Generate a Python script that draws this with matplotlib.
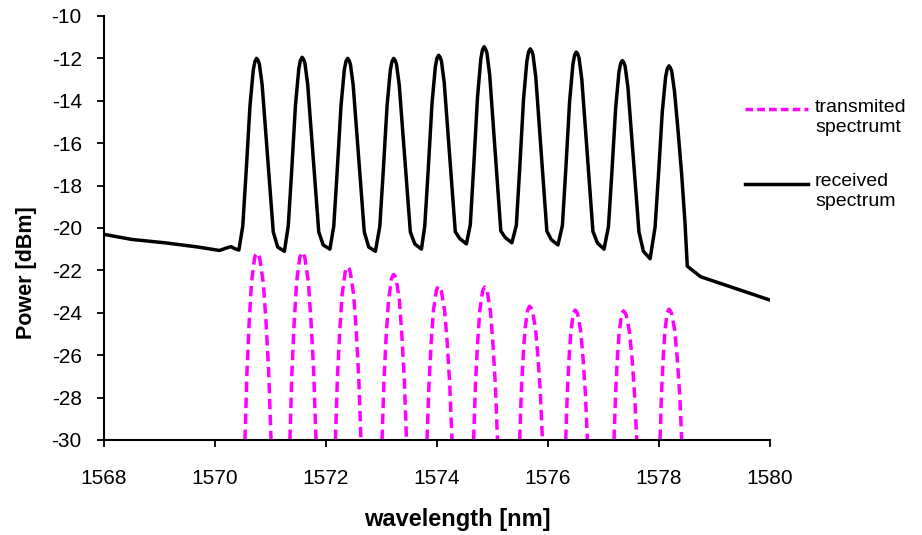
import numpy as np
import matplotlib
matplotlib.use("Agg")
import matplotlib.pyplot as plt
from matplotlib.lines import Line2D

plt.rcParams['font.family'] = ['Liberation Sans', 'DejaVu Sans']
plt.rcParams['axes.unicode_minus'] = False

# received spectrum (black)
rx = [1568.00, 1568.50, 1569.10, 1569.70, 1570.08, 1570.20, 1570.29, 1570.36, 1570.43,
      # ch 1
      1570.50, 1570.56, 1570.63, 1570.69, 1570.72, 1570.75, 1570.775, 1570.80, 1570.85, 1570.91, 1570.98, 1571.05, 1571.13, 1571.25,
      # ch 2
      1571.32, 1571.38, 1571.45, 1571.51, 1571.54, 1571.57, 1571.595, 1571.62, 1571.67, 1571.73, 1571.80, 1571.87, 1571.95, 1572.07,
      # ch 3
      1572.14, 1572.20, 1572.27, 1572.33, 1572.36, 1572.39, 1572.415, 1572.44, 1572.49, 1572.55, 1572.62, 1572.69, 1572.77, 1572.89,
      # ch 4
      1572.97, 1573.03, 1573.10, 1573.16, 1573.19, 1573.22, 1573.245, 1573.27, 1573.32, 1573.38, 1573.45, 1573.52, 1573.60, 1573.72,
      # ch 5
      1573.78, 1573.84, 1573.91, 1573.97, 1574.00, 1574.03, 1574.055, 1574.08, 1574.13, 1574.19, 1574.26, 1574.33, 1574.41, 1574.53,
      # ch 6
      1574.60, 1574.66, 1574.73, 1574.79, 1574.82, 1574.85, 1574.875, 1574.90, 1574.95, 1575.01, 1575.08, 1575.15, 1575.23, 1575.35,
      # ch 7
      1575.43, 1575.49, 1575.56, 1575.62, 1575.65, 1575.68, 1575.705, 1575.73, 1575.78, 1575.84, 1575.91, 1575.98, 1576.06, 1576.18,
      # ch 8
      1576.26, 1576.32, 1576.39, 1576.45, 1576.48, 1576.51, 1576.535, 1576.56, 1576.61, 1576.67, 1576.74, 1576.81, 1576.89, 1577.01,
      # ch 9
      1577.09, 1577.15, 1577.22, 1577.28, 1577.31, 1577.34, 1577.365, 1577.39, 1577.44, 1577.50, 1577.57, 1577.64, 1577.72, 1577.84,
      # ch 10 + tail
      1577.93, 1577.99, 1578.06, 1578.12, 1578.15, 1578.18, 1578.205, 1578.23, 1578.28, 1578.34, 1578.41, 1578.47, 1578.51,
      1578.75, 1580.00]
ry = [-20.30, -20.54, -20.70, -20.90, -21.06, -20.95, -20.88, -20.98, -21.04,
      -19.92, -17.40, -14.25, -12.54, -12.14, -12.00, -12.09, -12.27, -13.26, -15.33, -17.76, -20.19, -20.90, -21.10,
      -19.91, -17.38, -14.21, -12.49, -12.09, -11.95, -12.04, -12.22, -13.22, -15.30, -17.74, -20.19, -20.80, -21.00,
      -19.92, -17.40, -14.25, -12.54, -12.14, -12.00, -12.09, -12.27, -13.26, -15.33, -17.76, -20.19, -20.90, -21.10,
      -19.92, -17.40, -14.25, -12.54, -12.14, -12.00, -12.09, -12.27, -13.26, -15.33, -17.76, -20.19, -20.75, -21.00,
      -19.90, -17.34, -14.14, -12.40, -11.99, -11.85, -11.94, -12.12, -13.13, -15.24, -17.71, -20.18, -20.50, -20.75,
      -19.85, -17.18, -13.84, -12.02, -11.59, -11.45, -11.55, -11.74, -12.79, -14.98, -17.56, -20.14, -20.45, -20.70,
      -19.87, -17.22, -13.91, -12.12, -11.69, -11.55, -11.64, -11.83, -12.87, -15.05, -17.60, -20.15, -20.55, -20.80,
      -19.88, -17.28, -14.02, -12.26, -11.84, -11.70, -11.79, -11.98, -13.00, -15.14, -17.65, -20.16, -20.70, -21.00,
      -19.93, -17.44, -14.32, -12.63, -12.23, -12.10, -12.19, -12.37, -13.35, -15.39, -17.80, -20.20, -21.10, -21.45,
      -19.96, -17.54, -14.51, -12.87, -12.48, -12.35, -12.44, -12.61, -13.56, -15.30, -17.50, -19.80, -21.80,
      -22.30, -23.40]

# transmitted spectrum (magenta), one list per channel
tx = [[1570.540, 1570.576, 1570.616, 1570.658, 1570.712, 1570.734, 1570.755, 1570.781, 1570.806, 1570.870, 1570.920, 1570.968, 1571.010],
      [1571.350, 1571.386, 1571.428, 1571.471, 1571.526, 1571.548, 1571.570, 1571.595, 1571.620, 1571.683, 1571.731, 1571.779, 1571.820],
      [1572.170, 1572.206, 1572.248, 1572.291, 1572.346, 1572.368, 1572.390, 1572.414, 1572.438, 1572.498, 1572.545, 1572.590, 1572.630],
      [1573.010, 1573.045, 1573.085, 1573.126, 1573.178, 1573.199, 1573.220, 1573.243, 1573.266, 1573.324, 1573.368, 1573.412, 1573.450],
      [1573.820, 1573.855, 1573.895, 1573.936, 1573.988, 1574.009, 1574.030, 1574.054, 1574.078, 1574.138, 1574.185, 1574.230, 1574.270],
      [1574.660, 1574.693, 1574.731, 1574.770, 1574.820, 1574.840, 1574.860, 1574.883, 1574.906, 1574.964, 1575.008, 1575.052, 1575.090],
      [1575.490, 1575.520, 1575.554, 1575.589, 1575.634, 1575.652, 1575.670, 1575.693, 1575.716, 1575.774, 1575.818, 1575.862, 1575.900],
      [1576.320, 1576.348, 1576.380, 1576.414, 1576.456, 1576.473, 1576.490, 1576.512, 1576.534, 1576.589, 1576.632, 1576.674, 1576.710],
      [1577.190, 1577.218, 1577.250, 1577.284, 1577.326, 1577.343, 1577.360, 1577.384, 1577.408, 1577.468, 1577.515, 1577.560, 1577.600],
      [1578.020, 1578.046, 1578.077, 1578.108, 1578.148, 1578.164, 1578.180, 1578.203, 1578.226, 1578.284, 1578.328, 1578.372, 1578.410]]
ty = [[-30, -26.82, -24.44, -22.58, -21.43, -21.25, -21.17, -21.25, -21.43, -22.58, -24.44, -26.82, -30],
      [-30, -26.81, -24.42, -22.56, -21.41, -21.22, -21.14, -21.22, -21.41, -22.56, -24.42, -26.81, -30],
      [-30, -27.06, -24.85, -23.14, -22.08, -21.91, -21.83, -21.91, -22.08, -23.14, -24.85, -27.06, -30],
      [-30, -27.19, -25.08, -23.44, -22.42, -22.27, -22.19, -22.27, -22.42, -23.44, -25.08, -27.19, -30],
      [-30, -27.39, -25.43, -23.90, -22.96, -22.82, -22.74, -22.82, -22.96, -23.90, -25.43, -27.39, -30],
      [-30, -27.40, -25.45, -23.94, -23.00, -22.86, -22.78, -22.86, -23.00, -23.94, -25.45, -27.40, -30],
      [-30, -27.73, -26.02, -24.70, -23.88, -23.76, -23.69, -23.76, -23.88, -24.70, -26.02, -27.73, -30],
      [-30, -27.79, -26.14, -24.85, -24.05, -23.94, -23.87, -23.94, -24.05, -24.85, -26.14, -27.79, -30],
      [-30, -27.81, -26.16, -24.88, -24.09, -23.98, -23.91, -23.98, -24.09, -24.88, -26.16, -27.81, -30],
      [-30, -27.78, -26.11, -24.82, -24.02, -23.90, -23.83, -23.90, -24.02, -24.82, -26.11, -27.78, -30]]

xticks = [1568, 1570, 1572, 1574, 1576, 1578, 1580]
yticks = [-10, -12, -14, -16, -18, -20, -22, -24, -26, -28, -30]

magenta = '#FF00FF'

fig = plt.figure(figsize=(9.22, 5.35), dpi=100)
ax = fig.add_axes([0.1128, 0.1776, 0.7223, 0.7925])

# join the channels with gaps so they are one line
mx, my = [], []
for xs, ys in zip(tx, ty):
    mx += xs + [np.nan]
    my += ys + [np.nan]
ax.plot(mx, my, color=magenta, lw=2.5, dashes=(3.0, 1.6))
ax.plot(rx, ry, color='k', lw=2.5, solid_joinstyle='round')

ax.set_xlim(1568, 1580)
ax.set_ylim(-30, -10)
ax.set_xticks(xticks)
ax.set_yticks(yticks)
for s in ['top', 'right']:
    ax.spines[s].set_visible(False)
for s in ['left', 'bottom']:
    ax.spines[s].set_linewidth(1.5)
ax.tick_params(direction='out', length=5, width=1.3, labelsize=15)
ax.tick_params(axis='y', pad=11)
ax.tick_params(axis='x', pad=16)
ax.set_xlabel('wavelength [nm]', fontsize=17, fontweight='bold')
ax.set_ylabel('Power [dBm]', fontsize=15.5, fontweight='bold')
ax.xaxis.set_label_coords(0.530, -0.160)
ax.yaxis.set_label_coords(-0.1006, 0.394)

# legend drawn by hand, handles sit on the first text line
fig.add_artist(Line2D([745/922, 808/922], [1-109/535, 1-109/535], color=magenta, lw=2.5, dashes=(2.2, 1.2)))
fig.add_artist(Line2D([745/922, 808/922], [1-184/535, 1-184/535], color='k', lw=2.5))
fig.text(815/922, 1-99/535, 'transmited\nspectrumt', fontsize=14, va='top', ha='left', linespacing=1.2)
fig.text(815/922, 1-173/535, 'received\nspectrum', fontsize=14, va='top', ha='left', linespacing=1.2)

fig.savefig('out.png', dpi=100)
